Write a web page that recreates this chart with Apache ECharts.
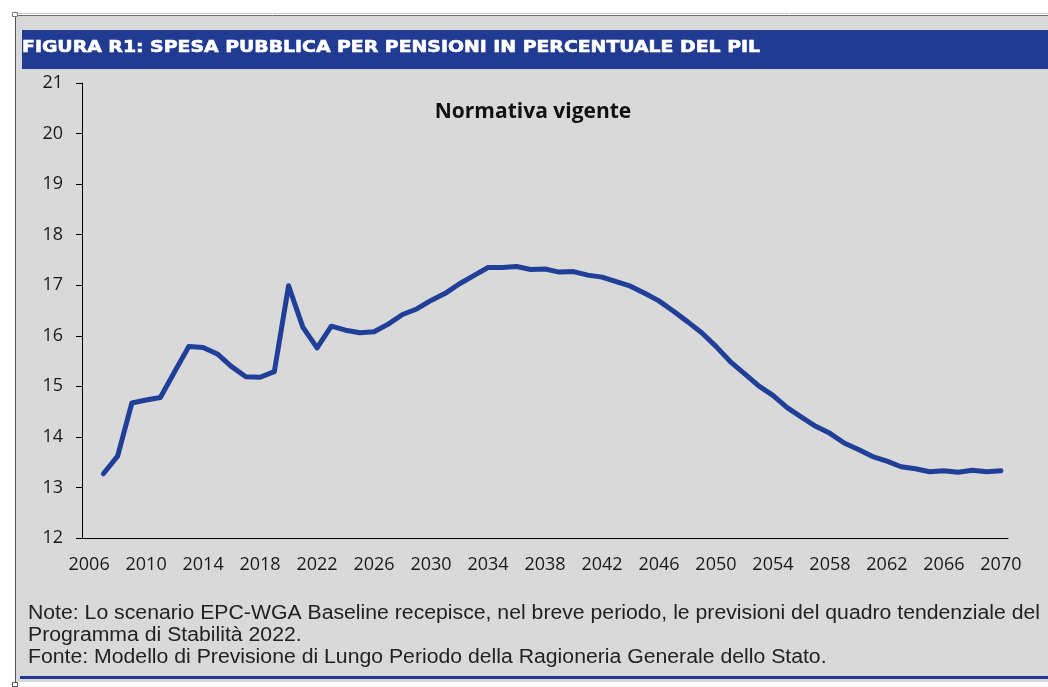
<!DOCTYPE html>
<html>
<head>
<meta charset="utf-8">
<title>Spesa pubblica per pensioni</title>
<script src="https://cdn.jsdelivr.net/npm/echarts@6/dist/echarts.min.js"></script>
<style>
  html, body { margin: 0; padding: 0; background: #fff; }
  #chart { width: 1048px; height: 687px; }
</style>
</head>
<body>
<div id="chart"></div>
<script>
// anni sull'asse x (categorie)
var anni = ['2006', '2007', '2008', '2009', '2010', '2011', '2012', '2013', '2014', '2015',
  '2016', '2017', '2018', '2019', '2020', '2021', '2022', '2023', '2024', '2025',
  '2026', '2027', '2028', '2029', '2030', '2031', '2032', '2033', '2034', '2035',
  '2036', '2037', '2038', '2039', '2040', '2041', '2042', '2043', '2044', '2045',
  '2046', '2047', '2048', '2049', '2050', '2051', '2052', '2053', '2054', '2055',
  '2056', '2057', '2058', '2059', '2060', '2061', '2062', '2063', '2064', '2065',
  '2066', '2067', '2068', '2069', '2070']

// spesa per pensioni in % del PIL, normativa vigente (2006 senza dato)
var spesa = [null, 13.27, 13.62, 14.67, 14.73, 14.78, 15.29, 15.79, 15.77, 15.64,
  15.39, 15.19, 15.18, 15.29, 16.99, 16.17, 15.76, 16.19, 16.11, 16.06,
  16.08, 16.23, 16.42, 16.53, 16.70, 16.84, 17.03, 17.19, 17.35, 17.35,
  17.37, 17.31, 17.32, 17.26, 17.27, 17.20, 17.16, 17.07, 16.98, 16.84,
  16.69, 16.49, 16.28, 16.06, 15.79, 15.49, 15.25, 15.01, 14.82, 14.58,
  14.39, 14.21, 14.07, 13.88, 13.75, 13.61, 13.52, 13.41, 13.37, 13.31,
  13.33, 13.30, 13.34, 13.31, 13.33]

// scala asse y
var yMin = 12
var yMax = 21
var yPasso = 1

var titolo = 'FIGURA R1: SPESA PUBBLICA PER PENSIONI IN PERCENTUALE DEL PIL'
var sottotitolo = 'Normativa vigente'
var note = [
  'Note: Lo scenario EPC-WGA Baseline recepisce, nel breve periodo, le previsioni del quadro tendenziale del',
  'Programma di Stabilità 2022.',
  'Fonte: Modello di Previsione di Lungo Periodo della Ragioneria Generale dello Stato.'
]

var blu = '#213a92'
var fontTitolo = "bold 16px 'DejaVu Sans'"
var fontNote = "19.5px 'Liberation Sans'"

// larghezza del testo, per stirarlo come nell'originale
var ctx = document.createElement('canvas').getContext('2d')
function larghezza(testo, font) {
  ctx.font = font
  return ctx.measureText(testo).width
}
var scalaTitolo = 738 / larghezza(titolo, fontTitolo)
var scalaNote = 1012 / larghezza(note[0], fontNote)

var myChart = echarts.init(document.getElementById('chart'))

var grafici = [
  // sfondo grigio del riquadro
  { type: 'rect', z: -10, shape: { x: 16, y: 16, width: 1032, height: 666 }, style: { fill: '#d9d9d9' } },
  // bordo superiore e sinistro
  { type: 'line', z: -9, shape: { x1: 14, y1: 13.5, x2: 1048, y2: 13.5 }, style: { stroke: '#c8c8c8', lineWidth: 1 } },
  { type: 'line', z: -9, shape: { x1: 14, y1: 15.5, x2: 1048, y2: 15.5 }, style: { stroke: '#6e6e6e', lineWidth: 1 } },
  { type: 'line', z: -9, shape: { x1: 15.5, y1: 14, x2: 15.5, y2: 684 }, style: { stroke: '#555', lineWidth: 1 } },
  // quadratini di selezione agli angoli
  { type: 'rect', z: -8, shape: { x: 12.5, y: 12.5, width: 5, height: 4 }, style: { fill: '#fff', stroke: '#777', lineWidth: 1 } },
  { type: 'rect', z: -8, shape: { x: 12.5, y: 682.5, width: 5, height: 4 }, style: { fill: '#fff', stroke: '#555', lineWidth: 1 } },
  // barra blu del titolo
  { type: 'rect', z: -8, shape: { x: 22, y: 30, width: 1026, height: 39 }, style: { fill: blu } },
  { type: 'text', z: 10, x: 22, y: 48, scaleX: scalaTitolo,
    style: { text: titolo, x: 0, y: 0, verticalAlign: 'middle', fill: '#fff', font: fontTitolo,
      stroke: '#fff', lineWidth: 0.6 } },
  // sottotitolo
  { type: 'text', z: 10, style: { text: sottotitolo, x: 533, y: 112, align: 'center', verticalAlign: 'middle', fill: '#111',
      font: "bold 21px 'Open Sans'" } },
  // linea blu in fondo
  { type: 'rect', z: -8, shape: { x: 20, y: 676, width: 1028, height: 3 }, style: { fill: blu } }
]

// righe di nota
note.forEach(function (riga, i) {
  grafici.push({
    type: 'text', z: 10, x: 28, y: 614 + i * 22, scaleX: scalaNote,
    style: { text: riga, x: 0, y: 0, verticalAlign: 'middle', fill: '#222', font: fontNote }
  })
})

var option = {
  animation: false,
  grid: {
    left: 82,
    right: 40,
    top: 83,
    bottom: 149
  },
  xAxis: {
    type: 'category',
    data: anni,
    boundaryGap: true,
    axisLine: { lineStyle: { color: '#000', width: 1 } },
    axisTick: { interval: 1, length: 7, lineStyle: { color: '#000' } },
    axisLabel: {
      interval: 3,
      margin: 18,
      color: '#1a1a1a',
      fontSize: 18,
      fontFamily: 'Open Sans'
    },
    splitLine: { show: false }
  },
  yAxis: {
    type: 'value',
    min: yMin,
    max: yMax,
    interval: yPasso,
    axisLine: { show: true, lineStyle: { color: '#000', width: 1 } },
    axisTick: { show: true, length: 6, lineStyle: { color: '#000' } },
    axisLabel: {
      margin: 19,
      color: '#1a1a1a',
      fontSize: 18,
      fontFamily: 'Open Sans'
    },
    splitLine: { show: false }
  },
  series: [
    {
      name: sottotitolo,
      type: 'line',
      data: spesa,
      symbol: 'none',
      connectNulls: false,
      lineStyle: { color: '#203f98', width: 5, join: 'round', cap: 'round' }
    }
  ],
  graphic: grafici
}

myChart.setOption(option)
</script>
</body>
</html>
